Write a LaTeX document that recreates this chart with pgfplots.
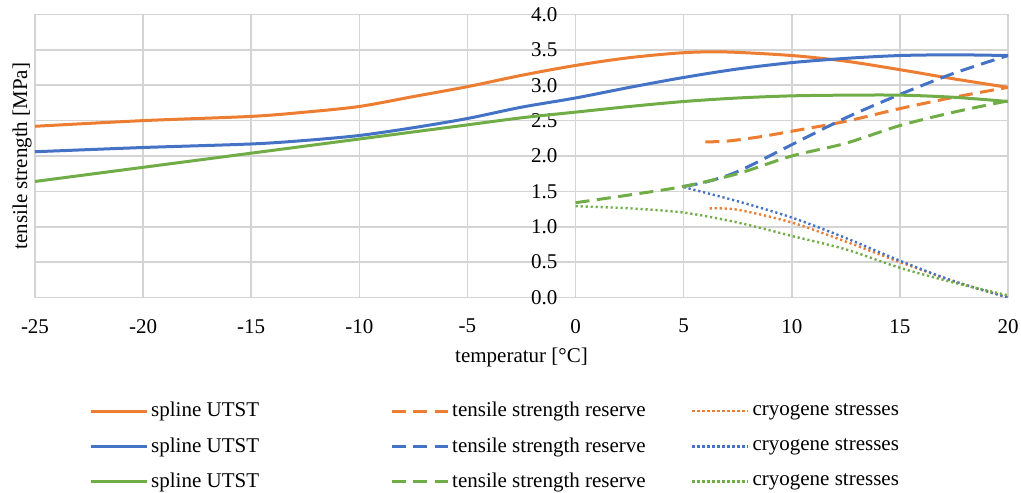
\documentclass[border=0pt]{standalone}
\usepackage{fontspec}
\setmainfont{Liberation Serif}
\usepackage{pgfplots}
\pgfplotsset{compat=1.18}
\definecolor{cor}{HTML}{ED7D31}
\definecolor{cbl}{HTML}{4472C4}
\definecolor{cgr}{HTML}{70AD47}
\definecolor{cgrid}{HTML}{D4D4D4}
\pgfplotsset{
  solidl/.style={line width=3pt, smooth, tension=0.5},
  dashl/.style={line width=3pt, smooth, tension=0.5, dash pattern=on 14pt off 7.5pt},
  dotl/.style={line width=2.4pt, smooth, tension=0.5, dash pattern=on 2.2pt off 2.8pt},
}
\begin{document}
\fontsize{21}{25}\selectfont
\begin{tikzpicture}
\begin{axis}[
  scale only axis, width=973pt, height=283pt,
  xmin=-25, xmax=20, ymin=0, ymax=4,
  xtick={-25,-20,-15,-10,-5,0,5,10,15,20},
  ytick={0,0.5,1,1.5,2,2.5,3,3.5,4},
  grid=major, major grid style={cgrid, line width=1.6pt},
  axis line style={cgrid, line width=1.6pt},
  tick style={draw=none},
  font=\fontsize{21}{25}\selectfont,
  /pgf/number format/assume math mode=true,
  y tick label style={/pgf/number format/fixed, /pgf/number format/fixed zerofill, /pgf/number format/precision=1, xshift=529.6pt},
  x tick label style={yshift=-14.5pt},
  xlabel={temperatur [°C]},
  ylabel={tensile strength [MPa]},
  every axis x label/.style={at={(rel axis cs:0.5,0)}, anchor=center, yshift=-60pt},
  every axis y label/.style={at={([xshift=-13pt]rel axis cs:0,0.5)}, rotate=90, anchor=center},
  legend columns=3,
  legend style={draw=none, fill=none, at={(rel axis cs:0.0524,-0.352)}, anchor=north west, nodes={inner sep=3pt}, row sep=11.5pt, font=\fontsize{21}{25}\selectfont},
  legend image code/.code={\draw[#1] (0pt,0pt) -- (56pt,0pt);},
  line join=round,
]
% orange
\addplot[cor, solidl] coordinates {(-25,2.42)(-20,2.50)(-15,2.56)(-12.5,2.62)(-10,2.70)(-7.5,2.84)(-5,2.98)(-2.5,3.14)(0,3.28)(2.5,3.39)(5,3.46)(7,3.47)(10,3.42)(12.5,3.34)(15,3.22)(17.5,3.09)(20,2.97)};
\addlegendentry{\makebox[236pt][l]{spline UTST}}
\addplot[cor, dashl] coordinates {(6,2.20)(7,2.21)(8.5,2.27)(10,2.35)(12.5,2.49)(15,2.67)(17.5,2.83)(20,2.97)};
\addlegendentry{\makebox[236pt][l]{tensile strength reserve}}
\addplot[cor, dotl] coordinates {(6.2,1.26)(7.5,1.24)(10,1.06)(12.5,0.79)(15,0.50)(17.5,0.23)(20,0.0)};
\addlegendentry{\makebox[236pt][l]{cryogene stresses}}
% blue
\addplot[cbl, solidl] coordinates {(-25,2.06)(-20,2.12)(-15,2.17)(-12.5,2.22)(-10,2.29)(-7.5,2.40)(-5,2.53)(-2.5,2.69)(0,2.82)(2.5,2.97)(5,3.11)(7.5,3.23)(10,3.32)(12.5,3.38)(15,3.42)(17.5,3.43)(20,3.42)};
\addlegendentry{\makebox[236pt][l]{spline UTST}}
\addplot[cbl, dashl] coordinates {(5,1.57)(6,1.63)(7.5,1.78)(10,2.16)(12.5,2.54)(15,2.87)(17.5,3.17)(20,3.42)};
\addlegendentry{\makebox[236pt][l]{tensile strength reserve}}
\addplot[cbl, dotl] coordinates {(5,1.56)(7.5,1.36)(10,1.13)(12.5,0.84)(15,0.52)(17.5,0.23)(20,0.0)};
\addlegendentry{\makebox[236pt][l]{cryogene stresses}}
% green
\addplot[cgr, solidl] coordinates {(-25,1.64)(-20,1.84)(-15,2.04)(-10,2.24)(-5,2.44)(-2.5,2.54)(0,2.62)(2.5,2.70)(5,2.77)(7.5,2.82)(10,2.85)(12.5,2.86)(15,2.86)(17.5,2.83)(20,2.77)};
\addlegendentry{\makebox[236pt][l]{spline UTST}}
\addplot[cgr, dashl] coordinates {(0,1.34)(2.5,1.45)(5,1.57)(7.5,1.75)(10,2.00)(12.5,2.18)(15,2.43)(17.5,2.62)(20,2.78)};
\addlegendentry{\makebox[236pt][l]{tensile strength reserve}}
\addplot[cgr, dotl] coordinates {(0,1.29)(2.5,1.26)(5,1.20)(7.5,1.06)(10,0.87)(12.5,0.68)(15,0.42)(17.5,0.21)(20,0.03)};
\addlegendentry{\makebox[236pt][l]{cryogene stresses}}
\coordinate (BL) at (rel axis cs:0,0);
\coordinate (TR) at (rel axis cs:1,1);
\end{axis}
\pgfresetboundingbox
\path ([shift={(-35pt,-195.5pt)}]BL) rectangle ([shift={(13pt,14.5pt)}]TR);
\end{tikzpicture}
\end{document}
